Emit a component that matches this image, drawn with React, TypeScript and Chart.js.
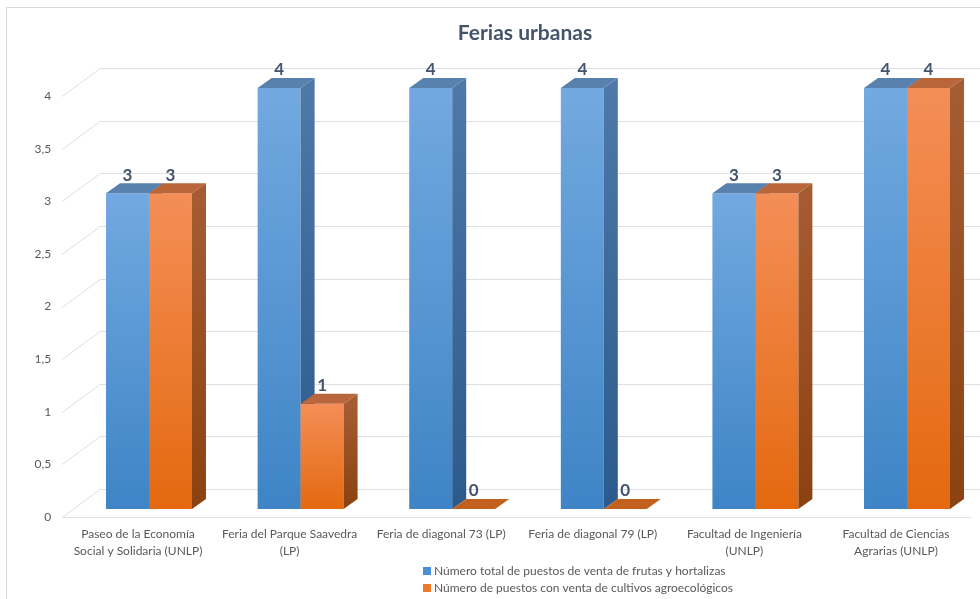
import React, { useEffect, useRef } from "react";
import { Chart, registerables } from "chart.js";
Chart.register(...registerables);

const chartTitle = "Ferias urbanas";
const categories = [
  ["Paseo de la Economía", "Social y Solidaria (UNLP)"],
  ["Feria del Parque Saavedra", "(LP)"],
  ["Feria de diagonal 73 (LP)"],
  ["Feria de diagonal 79 (LP)"],
  ["Facultad de Ingeniería", "(UNLP)"],
  ["Facultad de Ciencias", "Agrarias (UNLP)"],
];
const seriesNames = [
  "Número total de puestos de venta de frutas y hortalizas",
  "Número de puestos con venta de cultivos agroecológicos",
];
const totalStalls = [3, 4, 4, 4, 3, 4];
const agroStalls = [3, 1, 0, 0, 3, 4];
const yTickLabels = ["0", "0,5", "1", "1,5", "2", "2,5", "3", "3,5", "4"];

const W = 1050;
const H = 620;
const FONT = "Lato, 'Open Sans', sans-serif";
const DX = 14;
const DY = -10;

const styles = [
  { front: ["#72a9e0", "#3e84c6"], side: ["#4d78a8", "#2b5a8c"], top: "#5881ae", flat: "#3f6c9c", legend: "#4a8fd6" },
  { front: ["#f48e57", "#e4690f"], side: ["#a55c33", "#8a4210"], top: "#b9663a", flat: "#c2601d", legend: "#f07a2a" },
];

const threeD = {
  id: "threeD",
  beforeDraw(chart: any) {
    const { ctx, chartArea } = chart;
    const ys = chart.scales.y;
    ctx.save();
    ctx.fillStyle = "#ffffff";
    ctx.fillRect(0, 0, chart.width, chart.height);
    ctx.strokeStyle = "#d9d9d9";
    ctx.lineWidth = 1;
    ctx.strokeRect(6.5, 7.5, chart.width - 13, chart.height - 15);
    ctx.strokeStyle = "#dcdfe4";
    const fx = chartArea.left - 11;
    const bx = chartArea.left + 27;
    ys.ticks.forEach((t: any) => {
      const y = ys.getPixelForValue(t.value);
      ctx.beginPath();
      ctx.moveTo(fx, Math.round(y + 8) + 0.5);
      ctx.lineTo(bx, Math.round(y - 20) + 0.5);
      ctx.lineTo(chart.width, Math.round(y - 20) + 0.5);
      ctx.stroke();
    });
    const y0 = ys.getPixelForValue(0);
    ctx.beginPath();
    ctx.moveTo(fx, Math.round(y0 + 8) + 0.5);
    ctx.lineTo(chartArea.right - 12, Math.round(y0 + 8) + 0.5);
    ctx.stroke();
    ctx.restore();
  },
  afterDatasetsDraw(chart: any) {
    const { ctx } = chart;
    ctx.save();
    chart.data.datasets.forEach((_ds: any, si: number) => {
      const st = styles[si];
      const meta = chart.getDatasetMeta(si);
      meta.data.forEach((bar: any) => {
        const { x, y, base, width } = bar.getProps(["x", "y", "base", "width"], true);
        const l = x - width / 2;
        const r = x + width / 2;
        const tall = base - y > 0.5;
        if (tall) {
          const gf = ctx.createLinearGradient(0, y, 0, base);
          gf.addColorStop(0, st.front[0]);
          gf.addColorStop(1, st.front[1]);
          ctx.fillStyle = gf;
          ctx.fillRect(l, y, r - l, base - y);
          const g = ctx.createLinearGradient(0, y, 0, base);
          g.addColorStop(0, st.side[0]);
          g.addColorStop(1, st.side[1]);
          ctx.fillStyle = g;
          ctx.beginPath();
          ctx.moveTo(r, y);
          ctx.lineTo(r + DX, y + DY);
          ctx.lineTo(r + DX, base + DY);
          ctx.lineTo(r, base);
          ctx.closePath();
          ctx.fill();
        }
        ctx.fillStyle = tall ? st.top : st.flat;
        ctx.beginPath();
        ctx.moveTo(l, y);
        ctx.lineTo(r, y);
        ctx.lineTo(r + DX, y + DY);
        ctx.lineTo(l + DX, y + DY);
        ctx.closePath();
        ctx.fill();
      });
    });
    ctx.restore();
  },
  afterDraw(chart: any) {
    const { ctx } = chart;
    ctx.save();
    ctx.fillStyle = "#44546a";
    ctx.font = `bold 17px ${FONT}`;
    ctx.textAlign = "center";
    ctx.textBaseline = "middle";
    chart.data.datasets.forEach((ds: any, i: number) => {
      const meta = chart.getDatasetMeta(i);
      meta.data.forEach((bar: any, j: number) => {
        const { x, y } = bar.getProps(["x", "y"], true);
        ctx.fillText(String(ds.data[j]), x, y + DY - 8);
      });
    });
    ctx.font = `bold 21px ${FONT}`;
    ctx.fillText(chartTitle, 525, 33);
    ctx.font = `12px ${FONT}`;
    ctx.textAlign = "left";
    const ly = [571, 588];
    seriesNames.forEach((name, i) => {
      ctx.fillStyle = styles[i].legend;
      ctx.fillRect(423, ly[i] - 4, 8, 8);
      ctx.fillStyle = "#595959";
      ctx.fillText(name, 434, ly[i]);
    });
    ctx.restore();
  },
};

export default function App() {
  const ref = useRef<HTMLCanvasElement | null>(null);
  useEffect(() => {
    if (!ref.current) return;
    const chart = new Chart(ref.current, {
      type: "bar",
      data: {
        labels: categories,
        datasets: [
          {
            label: seriesNames[0],
            data: totalStalls,
            backgroundColor: "rgba(0,0,0,0)",
            categoryPercentage: 0.567,
            barPercentage: 1,
          },
          {
            label: seriesNames[1],
            data: agroStalls,
            backgroundColor: "rgba(0,0,0,0)",
            categoryPercentage: 0.567,
            barPercentage: 1,
          },
        ],
      },
      options: {
        animation: false,
        responsive: false,
        layout: { padding: { top: 88, left: 0, right: W - 982.8, bottom: 51 } },
        plugins: {
          legend: { display: false },
          title: { display: false },
          tooltip: { enabled: false },
        },
        scales: {
          x: {
            grid: { display: false, drawTicks: false },
            border: { display: false },
            ticks: {
              autoSkip: false,
              maxRotation: 0,
              minRotation: 0,
              padding: 17,
              labelOffset: -11,
              color: "#595959",
              font: { family: FONT, size: 12, lineHeight: 1.4 },
            },
            afterFit: (s: any) => {
              s.height = 60;
            },
          },
          y: {
            min: 0,
            max: 4,
            grid: { display: false, drawTicks: false },
            border: { display: false },
            ticks: {
              stepSize: 0.5,
              padding: 22,
              labelOffset: 8,
              color: "#595959",
              font: { family: FONT, size: 12 },
              callback: (_v: any, i: number) => yTickLabels[i],
            },
            afterFit: (s: any) => {
              s.width = 73.2;
            },
          },
        },
      },
      plugins: [threeD],
    } as any);
    return () => chart.destroy();
  }, []);
  return (
    <div style={{ position: "absolute", left: 0, top: 0, width: 980, height: 599, overflow: "hidden", background: "#fff" }}>
      <canvas ref={ref} width={W} height={H} style={{ width: W, height: H, display: "block" }} />
    </div>
  );
}
